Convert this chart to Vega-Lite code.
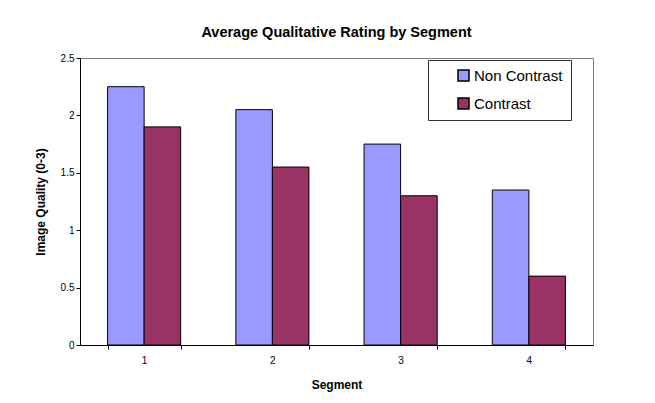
{
  "$schema": "https://vega.github.io/schema/vega-lite/v6.json",
  "width": 513,
  "height": 287,
  "autosize": {"type": "none"},
  "padding": {"left": 80, "top": 58, "right": 62, "bottom": 58},
  "background": "white",
  "title": {
    "text": "Average Qualitative Rating by Segment",
    "font": "Liberation Sans",
    "fontSize": 14.5,
    "fontWeight": "bold",
    "color": "black",
    "anchor": "middle",
    "offset": 13
  },
  "data": {
    "values": [
      {"Segment": "1", "Series": "Non Contrast", "Value": 2.25},
      {"Segment": "1", "Series": "Contrast", "Value": 1.9},
      {"Segment": "2", "Series": "Non Contrast", "Value": 2.05},
      {"Segment": "2", "Series": "Contrast", "Value": 1.55},
      {"Segment": "3", "Series": "Non Contrast", "Value": 1.75},
      {"Segment": "3", "Series": "Contrast", "Value": 1.3},
      {"Segment": "4", "Series": "Non Contrast", "Value": 1.35},
      {"Segment": "4", "Series": "Contrast", "Value": 0.6}
    ]
  },
  "mark": {"type": "bar", "stroke": "black", "strokeWidth": 1},
  "encoding": {
    "x": {
      "field": "Segment",
      "type": "nominal",
      "scale": {"paddingInner": 0.43, "paddingOuter": 0.215},
      "axis": {
        "title": "Segment",
        "labelAngle": 0,
        "tickBand": "extent",
        "labelPadding": 6,
        "titlePadding": 14
      }
    },
    "xOffset": {"field": "Series", "type": "nominal", "sort": ["Non Contrast", "Contrast"]},
    "y": {
      "field": "Value",
      "type": "quantitative",
      "scale": {"domain": [0, 2.5], "nice": false},
      "axis": {
        "title": "Image Quality (0-3)",
        "values": [0, 0.5, 1, 1.5, 2, 2.5],
        "format": "~g",
        "grid": false,
        "titlePadding": 13
      }
    },
    "color": {
      "field": "Series",
      "type": "nominal",
      "sort": ["Non Contrast", "Contrast"],
      "scale": {"domain": ["Non Contrast", "Contrast"], "range": ["#9999FF", "#993366"]},
      "legend": {
        "title": null,
        "orient": "none",
        "legendX": 348,
        "legendY": 2,
        "fillColor": "white",
        "strokeColor": "#333333",
        "padding": 8,
        "symbolOffset": 20,
        "symbolType": "square",
        "symbolSize": 121,
        "symbolStrokeColor": "black",
        "symbolStrokeWidth": 1.5,
        "labelFont": "Liberation Sans",
        "labelFontSize": 15,
        "labelColor": "black",
        "labelExpr": "datum.label + '\u00a0\u00a0\u00a0\u00a0\u00a0\u00a0\u00a0'",
        "rowPadding": 11,
        "labelOffset": 3
      }
    }
  },
  "config": {
    "view": {"stroke": "#808080", "strokeWidth": 1},
    "axis": {
      "labelFont": "Liberation Sans",
      "labelFontSize": 10,
      "labelColor": "black",
      "titleFont": "Liberation Sans",
      "titleFontSize": 12,
      "titleFontWeight": "bold",
      "titleColor": "black",
      "domainColor": "black",
      "tickColor": "black",
      "tickSize": 4
    }
  }
}
